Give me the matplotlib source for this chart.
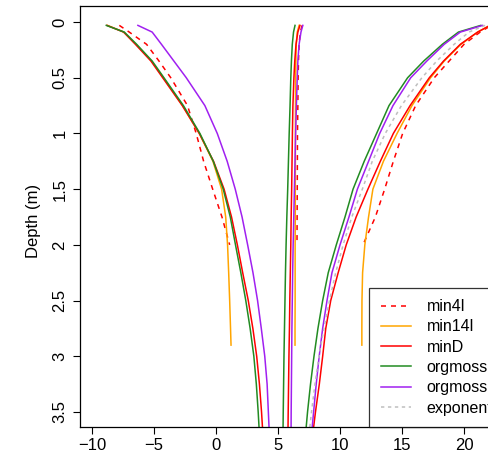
import matplotlib
matplotlib.use("Agg")
import matplotlib.pyplot as plt

plt.rcParams["font.family"] = ["Liberation Sans", "DejaVu Sans"]
plt.rcParams["lines.scale_dashes"] = False

# ── Data ─────────────────────────────────────────────────────────────────────
depth = [0.03, 0.09, 0.2, 0.35, 0.5, 0.75, 1.0, 1.25, 1.5, 1.75, 2.0,
         2.25, 2.5, 2.75, 3.0, 3.25, 3.5, 3.7]
depth_4l = depth[:11]
depth_14l = depth[:14] + [2.9]

# min4l (to 2 m)
min4l_lo = [-7.8, -7.0, -5.6, -4.6, -3.65, -2.3, -1.6, -1.0, -0.27, 0.48, 1.1]
min4l_mid = [6.94, 6.8, 6.7, 6.65, 6.62, 6.6, 6.57, 6.56, 6.55, 6.54, 6.53]
min4l_hi = [22.2, 21.3, 20.0, 18.8, 17.6, 16.1, 15.05, 14.3, 13.6, 12.85, 11.85]

# min14l (to 2.9 m)
min14l_lo = [-8.75, -7.45, -6.45, -5.2, -4.25, -2.7, -1.35, -0.25, 0.45,
             0.78, 0.93, 1.02, 1.1, 1.17, 1.21]
min14l_mid = [6.7, 6.55, 6.47, 6.44, 6.42, 6.41, 6.4, 6.4, 6.39, 6.39,
              6.38, 6.38, 6.38, 6.37, 6.37]
min14l_hi = [22.1, 21.1, 19.75, 18.4, 17.3, 15.8, 14.6, 13.5, 12.65, 12.3,
             12.0, 11.82, 11.77, 11.76, 11.76]

# minD
minD_lo = [-8.8, -7.45, -6.5, -5.25, -4.3, -2.72, -1.35, -0.2, 0.65, 1.25,
           1.72, 2.15, 2.6, 2.97, 3.28, 3.5, 3.67, 3.78]
minD_mid = [6.77, 6.6, 6.45, 6.35, 6.28, 6.2, 6.16, 6.13, 6.1, 6.06, 6.03,
            5.99, 5.95, 5.92, 5.88, 5.85, 5.82, 5.8]
minD_hi = [22.1, 21.1, 19.7, 18.35, 17.2, 15.65, 14.3, 13.25, 12.25, 11.3,
           10.5, 9.85, 9.25, 8.85, 8.6, 8.33, 8.02, 7.8]

# orgmoss1
org1_lo = [-8.85, -7.4, -6.4, -5.15, -4.2, -2.63, -1.3, -0.22, 0.58, 1.15,
           1.57, 2.0, 2.4, 2.75, 3.05, 3.25, 3.4, 3.5]
org1_mid = [6.37, 6.25, 6.15, 6.08, 6.03, 5.97, 5.9, 5.84, 5.78, 5.71, 5.65,
            5.6, 5.56, 5.52, 5.48, 5.45, 5.42, 5.4]
org1_hi = [21.35, 19.55, 18.25, 16.75, 15.45, 13.95, 12.95, 11.95, 11.05,
           10.4, 9.7, 9.05, 8.6, 8.22, 7.9, 7.62, 7.38, 7.22]

# orgmoss2
org2_lo = [-6.3, -5.15, -4.4, -3.4, -2.4, -0.9, 0.1, 0.9, 1.55, 2.1, 2.55,
           2.98, 3.35, 3.65, 3.93, 4.12, 4.22, 4.3]
org2_mid = [7.0, 6.85, 6.7, 6.6, 6.55, 6.48, 6.42, 6.37, 6.32, 6.27, 6.22,
            6.18, 6.15, 6.12, 6.1, 6.08, 6.06, 6.05]
org2_hi = [21.5, 19.7, 18.4, 17.0, 15.7, 14.27, 13.2, 12.3, 11.4, 10.72,
           10.0, 9.35, 8.95, 8.6, 8.32, 8.08, 7.87, 7.7]

# exponential (upper envelope)
expo_hi = [21.7, 20.4, 19.2, 17.8, 16.6, 14.95, 13.65, 12.6, 11.8, 10.95,
           10.25, 9.65, 9.15, 8.7, 8.3, 7.98, 7.7, 7.5]

labels = ["min4l", "min14l", "minD", "orgmoss1", "orgmoss2", "exponential"]

# ── Figure ───────────────────────────────────────────────────────────────────
W, H = 488, 458
fig = plt.figure(figsize=(W / 100, H / 100), dpi=100)

x_lo, x_hi = -10.97, 24.5
px_per_unit = 12.4
ax_w = (x_hi - x_lo) * px_per_unit
ax = fig.add_axes([80 / W, (H - 427) / H, ax_w / W, 421 / H])

lw = 1.1
red_dash = (0, (3.6, 3.6))
grey_dash = (0, (2.4, 2.6))

def trio(d, lo, mid, hi, **kw):
    line, = ax.plot(lo, d, **kw)
    ax.plot(mid, d, **kw)
    ax.plot(hi, d, **kw)
    return line

handles = [
    trio(depth_4l, min4l_lo, min4l_mid, min4l_hi, color="red", lw=lw, linestyle=red_dash),
    trio(depth_14l, min14l_lo, min14l_mid, min14l_hi, color="orange", lw=lw),
    trio(depth, minD_lo, minD_mid, minD_hi, color="red", lw=lw),
    trio(depth, org1_lo, org1_mid, org1_hi, color="forestgreen", lw=lw),
    trio(depth, org2_lo, org2_mid, org2_hi, color="#A020F0", lw=lw),
]
h_exp, = ax.plot(expo_hi, depth, color="#BEBEBE", lw=lw, linestyle=grey_dash)
handles.append(h_exp)

ax.set_xlim(x_lo, x_hi)
ax.set_ylim(3.635, -0.144)
ax.set_xticks([-10, -5, 0, 5, 10, 15, 20])
ax.set_yticks([0, 0.5, 1, 1.5, 2, 2.5, 3, 3.5])
ax.set_yticklabels(["0", "0.5", "1", "1.5", "2", "2.5", "3", "3.5"])
ax.tick_params(direction="out", length=5, width=0.8, labelsize=12, color="black")
ax.tick_params(axis="x", pad=3)
ax.tick_params(axis="y", labelrotation=90, pad=4)
for lab in ax.get_yticklabels():
    lab.set_va("center")
for sp in ax.spines.values():
    sp.set_linewidth(0.9)
    sp.set_color("black")

ax.set_ylabel("Depth (m)", fontsize=12)
ax.yaxis.set_label_coords((41 - 80) / ax_w, 0.49)

leg = fig.legend(handles, labels, loc="lower left",
                 bbox_to_anchor=(369 / W, (H - 427) / H),
                 borderaxespad=0, fontsize=11.5, frameon=True, fancybox=False,
                 handlelength=1.9, handletextpad=1.0, labelspacing=0.33,
                 borderpad=0.72)
leg.get_frame().set_edgecolor("black")
leg.get_frame().set_linewidth(0.9)

fig.savefig("out.png", dpi=100)
